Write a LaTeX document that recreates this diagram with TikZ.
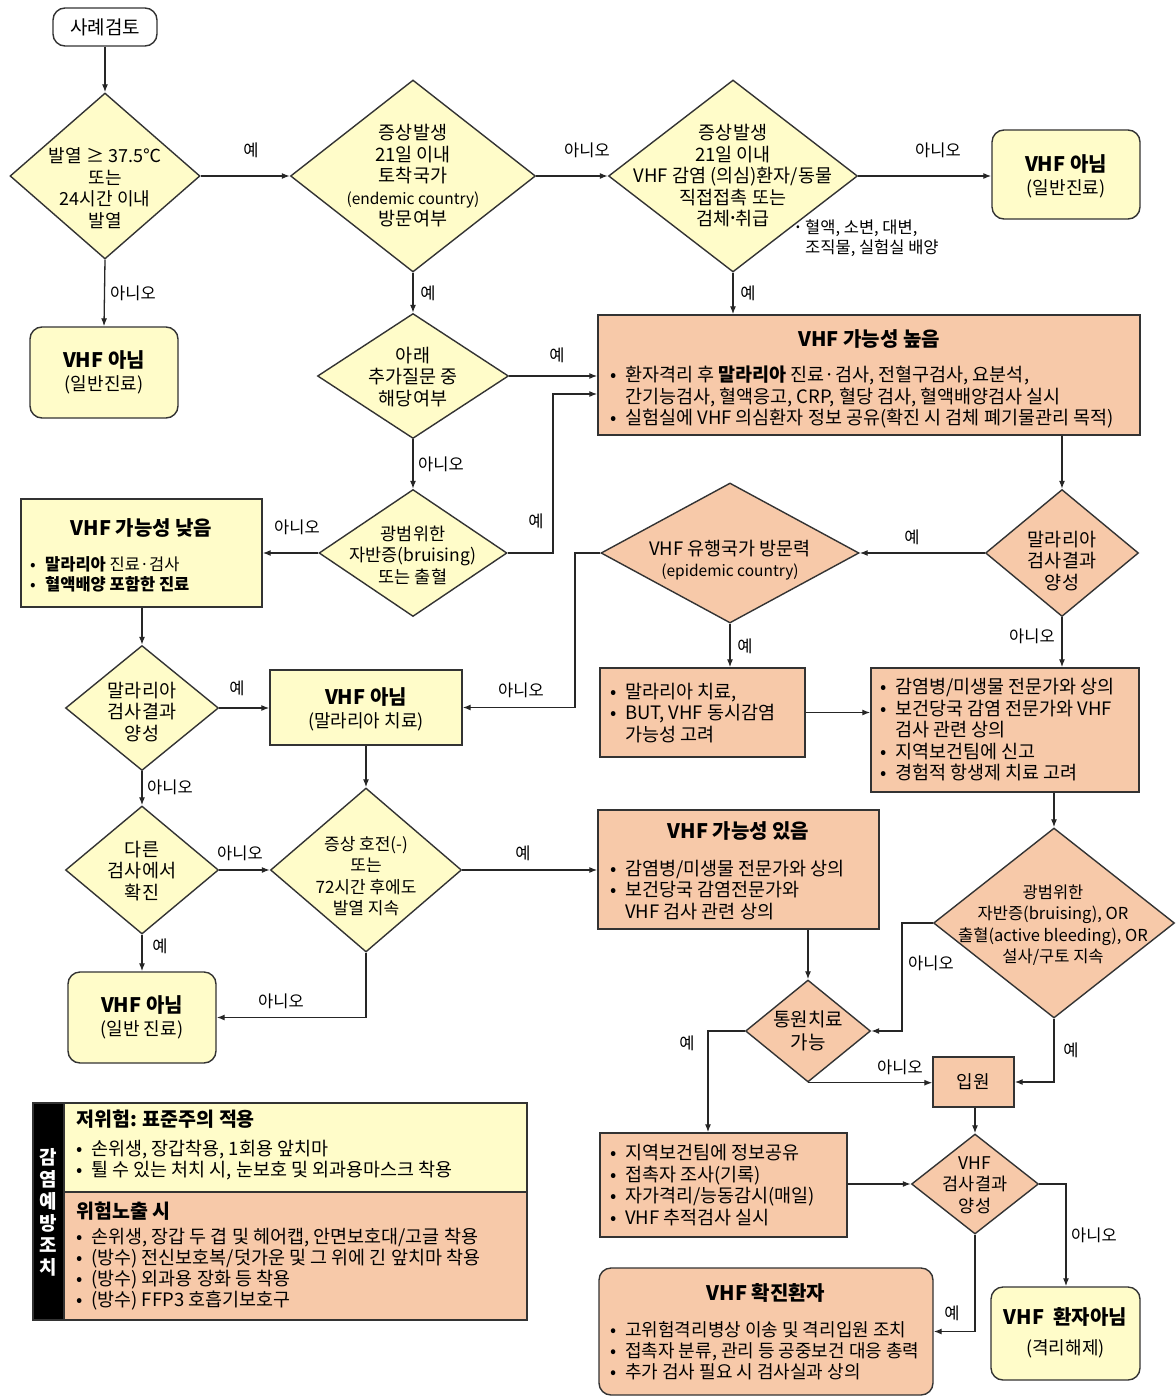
\documentclass[tikz,border=0pt]{standalone}
\usepackage{fontspec}
\setmainfont{Noto Sans CJK KR}
\usetikzlibrary{shapes.geometric,arrows.meta}
\definecolor{yel}{HTML}{FFFCC9}
\definecolor{pch}{HTML}{F7C9A9}
\definecolor{bd}{HTML}{333333}
\newcommand\bu{\makebox[15pt][l]{•}}
\newcommand\hg{\hspace*{15pt}}
\newcommand\fs[1]{\fontsize{#1}{21.5}\selectfont}
\begin{document}
\begin{tikzpicture}[x=1pt,y=-1pt,
  every node/.style={font=\fs{18.5}, inner sep=0pt},
  ybox/.style={draw=bd, line width=1.4pt, fill=yel},
  obox/.style={draw=bd, line width=1.4pt, fill=pch},
  wbox/.style={draw=bd, line width=1.4pt, fill=white},
  rnd/.style={rounded corners=12pt},
  dia/.style={diamond, draw=bd, line width=1.4pt, inner sep=0pt},
  txt/.style={align=center},
  lst/.style={align=left, anchor=west},
  ttl/.style={font=\fontsize{20}{24}\selectfont\bfseries},
  sub/.style={font=\fs{18}},
  lbl/.style={font=\fontsize{16.5}{18}\selectfont},
  arr/.style={draw=black!85, line width=1.3pt, -{Latex[length=8pt,width=6pt]}},
]
\fill[white] (0,0) rectangle (1175,1399);
\useasboundingbox (0,0) rectangle (1175,1399);

% ---- boxes ----
\node[wbox, rnd, minimum width=104pt, minimum height=38pt, font=\fs{19}] (start) at (105,27) {사례검토};
\node[ybox, rnd, minimum width=148pt, minimum height=91pt] (nv1) at (104,372.5) {};
\node[ttl] (nv1a) at (104,360) {VHF 아님};
\node[sub] (nv1b) at (104,385) {(일반진료)};
\node[ybox, rnd, minimum width=148pt, minimum height=89pt] (nv2) at (1066,174.5) {};
\node[ttl] (nv2a) at (1066,164) {VHF 아님};
\node[sub] (nv2b) at (1066,189) {(일반진료)};

\node[obox, minimum width=542pt, minimum height=120pt] (high) at (869,375) {};
\node[ttl] (higha) at (869,339) {VHF 가능성 높음};
\node[lst] (highb) at (610,397) {\bu 환자격리 후 \textbf{말라리아} 진료·검사, 전혈구검사, 요분석,\\\hg 간기능검사, 혈액응고, CRP, 혈당 검사, 혈액배양검사 실시\\\bu 실험실에 VHF 의심환자 정보 공유(확진 시 검체 폐기물관리 목적)};

\node[ybox, minimum width=241pt, minimum height=108pt] (low) at (141.5,553) {};
\node[ttl] (lowa) at (141.5,528) {VHF 가능성 낮음};
\node[lst, font=\fontsize{16.5}{20}\selectfont] (lowb) at (30,574) {\bu\textbf{말라리아} 진료·검사\\\bu\textbf{혈액배양 포함한 진료}};

\node[ybox, minimum width=192pt, minimum height=75pt] (nv3) at (366,707.5) {};
\node[ttl] (nv3a) at (366,697) {VHF 아님};
\node[sub] (nv3b) at (366,722) {(말라리아 치료)};

\node[obox, minimum width=205pt, minimum height=89pt] (mal) at (702.5,712.5) {};
\node[lst] (malb) at (610,713) {\bu 말라리아 치료,\\\bu BUT, VHF 동시감염\\\hg 가능성 고려};

\node[obox, minimum width=268pt, minimum height=124pt] (cons) at (1005,730) {};
\node[lst] (consb) at (880,730) {\bu 감염병/미생물 전문가와 상의\\\bu 보건당국 감염 전문가와 VHF\\\hg 검사 관련 상의\\\bu 지역보건팀에 신고\\\bu 경험적 항생제 치료 고려};

\node[ybox, rnd, minimum width=148pt, minimum height=91pt] (nv4) at (142,1017.5) {};
\node[ttl] (nv4a) at (142,1005) {VHF 아님};
\node[sub] (nv4b) at (142,1030) {(일반 진료)};

\node[obox, minimum width=281pt, minimum height=119pt] (poss) at (738.5,869.5) {};
\node[ttl] (possa) at (738.5,831) {VHF 가능성 있음};
\node[lst] (possb) at (610,890) {\bu 감염병/미생물 전문가와 상의\\\bu 보건당국 감염전문가와\\\hg VHF 검사 관련 상의};

\node[obox, minimum width=81pt, minimum height=50pt, font=\fs{18}] (ipw) at (973.5,1082) {입원};

\node[obox, minimum width=247pt, minimum height=104pt] (act) at (723.5,1185) {};
\node[lst] (actb) at (610,1185) {\bu 지역보건팀에 정보공유\\\bu 접촉자 조사(기록)\\\bu 자가격리/능동감시(매일)\\\bu VHF 추적검사 실시};

\node[obox, rnd, minimum width=334pt, minimum height=127pt] (conf) at (766,1331.5) {};
\node[ttl] (confa) at (766,1293) {VHF 확진환자};
\node[lst, font=\fontsize{18}{21}\selectfont] (confb) at (610,1351) {\bu 고위험격리병상 이송 및 격리입원 조치\\\bu 접촉자 분류, 관리 등 공중보건 대응 총력\\\bu 추가 검사 필요 시 검사실과 상의};

\node[ybox, rnd, minimum width=149pt, minimum height=93pt] (nvf) at (1065.5,1333.5) {};
\node[ttl] (nvfa) at (1065.5,1317) {VHF\ \ 환자아님};
\node[sub] (nvfb) at (1065.5,1349) {(격리해제)};

% ---- diamonds ----
\node[dia, fill=yel, minimum width=190pt, minimum height=166pt] (d1) at (105,176) {};
\node[txt, font=\fs{18}] (d1t) at (105,188) {발열 ≥ 37.5℃\\또는\\24시간 이내\\발열};
\node[dia, fill=yel, minimum width=245pt, minimum height=192pt] (d2) at (413,176) {};
\node[txt] (d2t) at (413,176) {증상발생\\21일 이내\\토착국가\\{\fs{15.5}(endemic country)}\\방문여부};
\node[dia, fill=yel, minimum width=249pt, minimum height=192pt] (d3) at (733,176) {};
\node[txt] (d3t) at (733,176) {증상발생\\21일 이내\\VHF 감염 (의심)환자/동물\\직접접촉 또는\\검체\raisebox{4pt}{\fs{12}•}취급};
\node[lst, font=\fontsize{16.5}{19.5}\selectfont] (note) at (796,238) {\makebox[9pt][l]{\raisebox{3pt}{\fs{11}•}}혈액, 소변, 대변,\\\hspace*{9pt}조직물, 실험실 배양};
\node[dia, fill=yel, minimum width=191pt, minimum height=125pt] (d4) at (413,376) {};
\node[txt] (d4t) at (413,377) {아래\\추가질문 중\\해당여부};
\node[dia, fill=yel, minimum width=188pt, minimum height=127pt] (d5) at (413,553) {};
\node[txt, font=\fs{17.5}] (d5t) at (413,555) {광범위한\\자반증(bruising)\\또는 출혈};
\node[dia, fill=pch, minimum width=153pt, minimum height=127pt] (d6) at (1062,553) {};
\node[txt] (d6t) at (1062,561) {말라리아\\검사결과\\양성};
\node[dia, fill=pch, minimum width=258pt, minimum height=140pt] (d7) at (730,553) {};
\node[txt] (d7t) at (730,560) {VHF 유행국가 방문력\\{\fs{15.5}(epidemic country)}};
\node[dia, fill=yel, minimum width=153pt, minimum height=125pt] (d8) at (142,708) {};
\node[txt] (d8t) at (142,712) {말라리아\\검사결과\\양성};
\node[dia, fill=yel, minimum width=153pt, minimum height=128pt] (d9) at (142,870) {};
\node[txt] (d9t) at (142,871) {다른\\검사에서\\확진};
\node[dia, fill=yel, minimum width=191pt, minimum height=164pt] (d10) at (366,870) {};
\node[txt, font=\fs{17}] (d10t) at (366,876) {증상 호전(-)\\또는\\72시간 후에도\\발열 지속};
\node[dia, fill=pch, minimum width=241pt, minimum height=190pt] (d11) at (1054,923) {};
\node[txt, font=\fs{16.5}] (d11t) at (1053,925) {광범위한\\자반증(bruising), OR\\출혈(active bleeding), OR\\설사/구토 지속};
\node[dia, fill=pch, minimum width=125pt, minimum height=102pt] (d12) at (808,1031) {};
\node[txt, font=\fontsize{19}{23}\selectfont] (d12t) at (808,1031) {통원치료\\가능};
\node[dia, fill=pch, minimum width=127pt, minimum height=100pt] (d13) at (975,1184) {};
\node[txt, font=\fs{17.5}] (d13t) at (975,1185) {VHF\\검사결과\\양성};

% ---- legend ----
\node[draw=bd, line width=1.4pt, fill=black, minimum width=31pt, minimum height=217pt] (lbar) at (48.5,1211.5) {};
\node[txt, text=white, font=\fontsize{19}{22}\selectfont\bfseries] (lbart) at (48.5,1212) {감\\염\\예\\방\\조\\치};
\node[ybox, minimum width=463pt, minimum height=89pt] (lg1) at (295.5,1147.5) {};
\node[obox, minimum width=463pt, minimum height=128pt] (lg2) at (295.5,1256) {};
\node[lst, font=\fontsize{19.5}{21}\selectfont\bfseries] (lg1a) at (76,1119) {저위험: 표준주의 적용};
\node[lst, font=\fontsize{18.5}{21}\selectfont] (lg1b) at (76,1160) {\bu 손위생, 장갑착용, 1회용 앞치마\\\bu 튈 수 있는 처치 시, 눈보호 및 외과용마스크 착용};
\node[lst, font=\fontsize{19.5}{21}\selectfont\bfseries] (lg2a) at (76,1211) {위험노출 시};
\node[lst, font=\fontsize{18.5}{21}\selectfont] (lg2b) at (76,1269) {\bu 손위생, 장갑 두 겹 및 헤어캡, 안면보호대/고글 착용\\\bu (방수) 전신보호복/덧가운 및 그 위에 긴 앞치마 착용\\\bu (방수) 외과용 장화 등 착용\\\bu (방수) FFP3 호흡기보호구};

% ---- connectors ----
\coordinate (j1) at (553,394);
\coordinate (j2) at (575,553);
\coordinate (j3) at (902,923);
\coordinate (j4) at (708,1031);
\coordinate (j5) at (1066,1184);

\draw[arr] (start) -- (d1.north);
\draw[arr] (d1.east) -- (d2.west);
\draw[arr] (d1.south) -- (nv1.north);
\draw[arr] (d2.east) -- (d3.west);
\draw[arr] (d3.east) -- (d3.east -| nv2.west);
\draw[arr] (d2.south) -- (d4.north);
\draw[arr] (d3.south) -- (d3.south |- high.north);
\draw[arr] (d4.east) -- (d4.east -| high.west);
\draw[arr] (d4.south) -- (d5.north);
\draw[arr] (d5.east) -| (j1) -- (j1 -| high.west);
\draw[arr] (d5.west) -- (low.east);
\draw[arr] (d6.north |- high.south) -- (d6.north);
\draw[arr] (d6.west) -- (d7.east);
\draw[arr] (d7.west) -- (j2) |- (nv3.east);
\draw[arr] (d7.south) -- (d7.south |- mal.north);
\draw[arr] (d6.south) -- (d6.south |- cons.north);
\draw[arr] (mal.east) -- (mal.east -| cons.west);
\draw[arr] (d8.north |- low.south) -- (d8.north);
\draw[arr] (d8.east) -- (d8.east -| nv3.west);
\draw[arr] (d8.south) -- (d9.north);
\draw[arr] (d9.east) -- (d10.west);
\draw[arr] (d9.south) -- (nv4.north);
\draw[arr] (nv3.south) -- (d10.north);
\draw[arr] (d10.east) -- (d10.east -| poss.west);
\draw[arr] (d10.south) |- (nv4.east);
\draw[arr] (d11.north |- cons.south) -- (d11.north);
\draw[arr] (d12.north |- poss.south) -- (d12.north);
\draw[arr] (d11.west) -- (j3) |- (d12.east);
\draw[arr] (d11.south) |- (ipw.east);
\draw[arr] (d12.west) -- (j4) -- (j4 |- act.north);
\draw[arr] (d12.south) -- (d12.south -| ipw.west);
\draw[arr] (d13.north |- ipw.south) -- (d13.north);
\draw[arr] (act.east |- d13.west) -- (d13.west);
\draw[arr] (d13.east) -- (j5) -- (j5 |- nvf.north);
\draw[arr] (d13.south) |- (conf.east);

% ---- labels ----
\node[lbl] (l1) at (251,150) {예};
\node[lbl] (l2) at (133,293) {아니오};
\node[lbl] (l3) at (587,150) {아니오};
\node[lbl] (l4) at (938,150) {아니오};
\node[lbl] (l5) at (428,293) {예};
\node[lbl] (l6) at (748,293) {예};
\node[lbl] (l7) at (557,355) {예};
\node[lbl] (l8) at (441,464) {아니오};
\node[lbl] (l9) at (536,521) {예};
\node[lbl] (l10) at (297,527) {아니오};
\node[lbl] (l11) at (912,537) {예};
\node[lbl] (l12) at (521,690) {아니오};
\node[lbl] (l13) at (745,646) {예};
\node[lbl] (l14) at (1032,636) {아니오};
\node[lbl] (l15) at (237,688) {예};
\node[lbl] (l16) at (170,787) {아니오};
\node[lbl] (l17) at (240,853) {아니오};
\node[lbl] (l18) at (160,946) {예};
\node[lbl] (l19) at (523,853) {예};
\node[lbl] (l20) at (281,1001) {아니오};
\node[lbl] (l21) at (931,963) {아니오};
\node[lbl] (l22) at (1071,1050) {예};
\node[lbl] (l23) at (687,1043) {예};
\node[lbl] (l24) at (900,1067) {아니오};
\node[lbl] (l25) at (1094,1235) {아니오};
\node[lbl] (l26) at (952,1313) {예};
\end{tikzpicture}
\end{document}
